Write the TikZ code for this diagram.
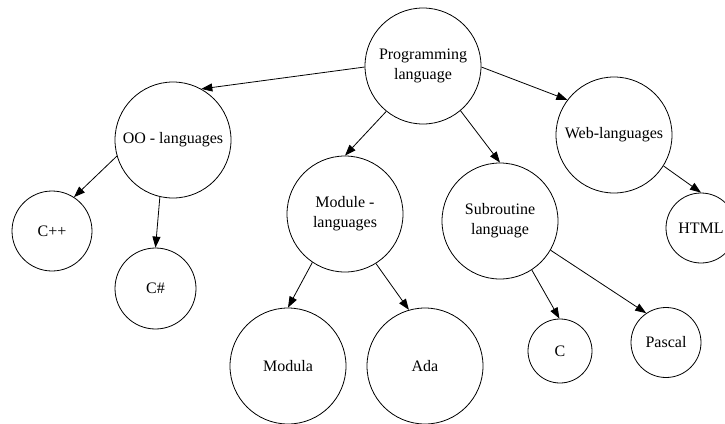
\documentclass[tikz,border=0pt]{standalone}
\usepackage{fontspec}
\setmainfont{Liberation Serif}
\usetikzlibrary{arrows.meta}
\tikzset{
  lang/.style={draw, circle, line width=0.8pt, inner sep=0pt, align=center,
    font=\fontsize{16}{20}\selectfont, minimum size=#1},
  lang/.default=116pt,
  edge/.style={line width=0.8pt, -{Triangle[length=11pt,width=8pt]}}
}
\begin{document}
\begin{tikzpicture}[x=1pt,y=-1pt]
\useasboundingbox (0,0) rectangle (725,423);
\node[lang] (prog) at (423,66) {Programming\\language};
\node[lang] (oo) at (173,140) {OO - languages};
\node[lang=80pt] (cpp) at (52,231) {C++};
\node[lang=81pt] (cs) at (155.5,288.5) {C\#};
\node[lang] (mod) at (345,214) {Module -\\languages};
\node[lang] (modula) at (288,366) {Modula};
\node[lang] (ada) at (425,366) {Ada};
\node[lang] (sub) at (500,221) {Subroutine\\language};
\node[lang=64pt] (c) at (560,351) {C};
\node[lang=70pt] (pascal) at (666,342.5) {Pascal};
\node[lang] (web) at (614,135) {Web-languages};
\node[lang=70pt] (html) at (701,228) {HTML};
\draw[edge] (prog.181) -- (oo.61.6);
\draw[edge] (prog.231.7) -- (mod.90);
\draw[edge] (prog.310.3) -- (sub.90);
\draw[edge] (prog.359) -- (web.143.5);
\draw[edge] (oo.196) -- (cpp.57.4);
\draw[edge] (oo.257) -- (cs.90);
\draw[edge] (mod.236) -- (modula.90);
\draw[edge] (mod.302) -- (ada.106.4);
\draw[edge] (sub.303) -- (c.91);
\draw[edge] (sub.330.5) -- (pascal.124.4);
\draw[edge] (web.328) -- (html.90);
\end{tikzpicture}
\end{document}
